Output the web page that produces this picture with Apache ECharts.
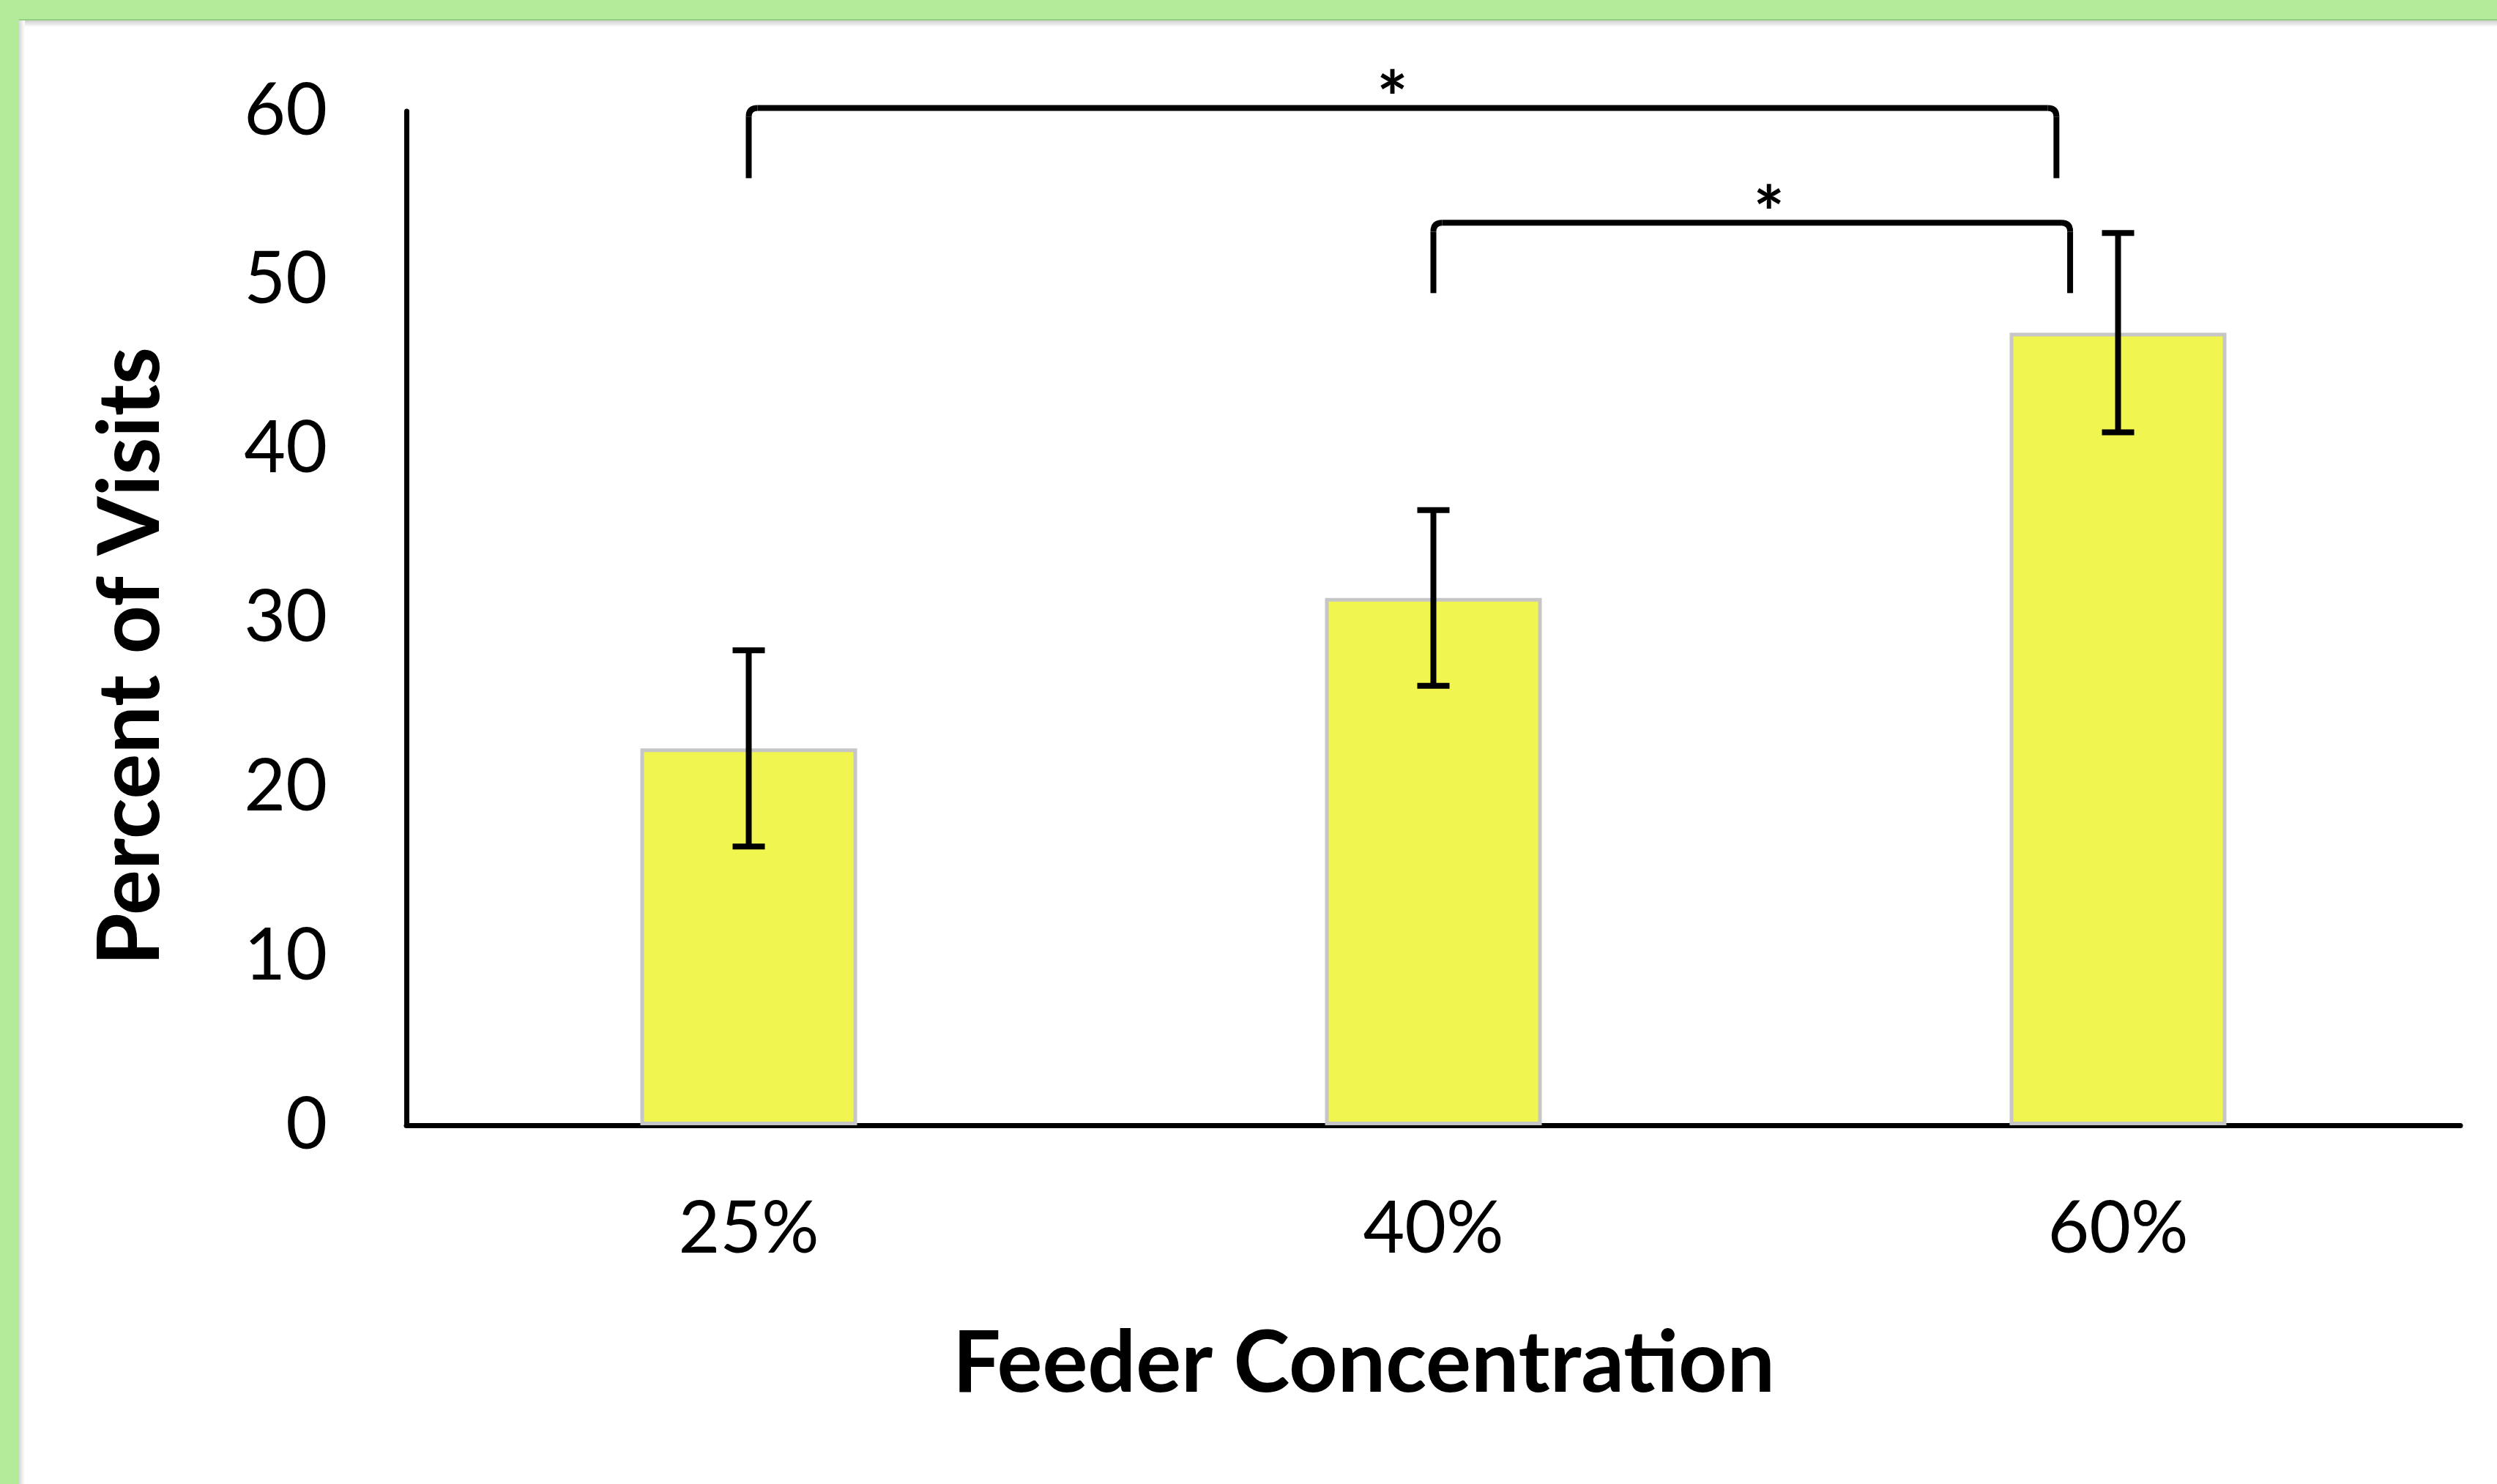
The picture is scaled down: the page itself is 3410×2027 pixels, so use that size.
<!DOCTYPE html>
<html>
<head>
<meta charset="utf-8">
<script src="https://cdn.jsdelivr.net/npm/echarts@6/dist/echarts.min.js"></script>
<style>
  html, body { margin: 0; padding: 0; width: 3410px; height: 2027px; background: #fff; overflow: hidden; }
  .band-top { position: absolute; left: 0; top: 0; width: 3410px; height: 26px; background: #b3eb9a; border-bottom: 2px solid #96d07e; }
  .band-left { position: absolute; left: 0; top: 0; width: 26px; height: 2027px; background: #b3eb9a; }
  .shade-top { position: absolute; left: 26px; top: 28px; width: 3384px; height: 9px; background: linear-gradient(#cfcfcf, #fff); }
  .shade-left { position: absolute; left: 26px; top: 28px; width: 8px; height: 1999px; background: linear-gradient(90deg, #d8d8d8, #fff); }
  #chart { position: absolute; left: 0; top: 0; width: 3410px; height: 2027px; }
</style>
</head>
<body>
<div class="band-top"></div>
<div class="band-left"></div>
<div class="shade-top"></div>
<div class="shade-left"></div>
<div id="chart"></div>
<script>
// feeder sugar concentrations
const categories = ['25%', '40%', '60%']
// mean percent of visits and error (+/-)
const visits = [22.3, 31.2, 46.9]
const errors = [5.8, 5.2, 5.9]
// significance brackets: from / to (category position), level (percent), mark position
const bracketFrom = [0, 1]
const bracketTo = [1.91, 1.93]
const bracketLevel = [60.2, 53.4]
const bracketMarkAt = [0.94, 1.49]
const bracketMark = ['*', '*']

const font = 'Lato, "Open Sans", sans-serif'
const chart = echarts.init(document.getElementById('chart'))

const errData = visits.map((v, i) => [i, v - errors[i], v + errors[i]])
const bracketData = bracketFrom.map((f, i) => [f, bracketLevel[i], bracketTo[i], bracketMarkAt[i]])

chart.setOption({
  animation: false,
  grid: { left: 555, top: 152, right: 50, bottom: 490 },
  xAxis: [
    {
      type: 'category',
      data: categories,
      axisLine: { lineStyle: { color: '#000', width: 7 } },
      axisTick: { show: false },
      axisLabel: { color: '#000', fontSize: 98, fontFamily: font, margin: 142, verticalAlign: 'middle' },
      name: 'Feeder Concentration',
      nameLocation: 'middle',
      nameGap: 327,
      nameTextStyle: {
        color: '#000', fontSize: 116, fontWeight: 'bold', fontFamily: font,
        verticalAlign: 'middle', padding: [0, 190, 0, 0],
      },
    },
    // hidden helper axis for the significance brackets
    { type: 'value', min: -0.5, max: 2.5, show: false, position: 'bottom' },
  ],
  yAxis: {
    type: 'value',
    min: 0,
    max: 60,
    interval: 10,
    axisLine: { show: true, onZero: false, lineStyle: { color: '#000', width: 7 } },
    axisTick: { show: false },
    splitLine: { show: false },
    axisLabel: { color: '#000', fontSize: 98, fontFamily: font, margin: 108 },
    name: 'Percent of Visits',
    nameLocation: 'middle',
    nameRotate: 90,
    nameGap: 375,
    nameTextStyle: {
      color: '#000', fontSize: 116, fontWeight: 'bold', fontFamily: font,
      verticalAlign: 'middle', padding: [0, 104, 0, 0],
    },
  },
  series: [
    {
      type: 'bar',
      data: visits,
      barWidth: 296,
      itemStyle: { color: '#f0f54f', borderColor: '#c6c6c6', borderWidth: 5 },
    },
    {
      type: 'custom',
      data: errData,
      z: 5,
      renderItem: (params, api) => {
        const lo = api.coord([api.value(0), api.value(1)])
        const hi = api.coord([api.value(0), api.value(2)])
        const cap = 22
        const st = { stroke: '#000', lineWidth: 8 }
        return {
          type: 'group',
          children: [
            { type: 'line', shape: { x1: hi[0], y1: hi[1], x2: lo[0], y2: lo[1] }, style: st },
            { type: 'line', shape: { x1: hi[0] - cap, y1: hi[1], x2: hi[0] + cap, y2: hi[1] }, style: st },
            { type: 'line', shape: { x1: lo[0] - cap, y1: lo[1], x2: lo[0] + cap, y2: lo[1] }, style: st },
          ],
        }
      },
    },
    {
      type: 'custom',
      xAxisIndex: 1,
      data: bracketData,
      z: 6,
      renderItem: (params, api) => {
        const a = api.coord([api.value(0), api.value(1)])
        const b = api.coord([api.value(2), api.value(1)])
        const m = api.coord([api.value(3), api.value(1)])
        const r = 12
        const leg = 96
        const st = { stroke: '#000', lineWidth: 8, fill: 'none' }
        const y = a[1]
        return {
          type: 'group',
          children: [
            { type: 'line', shape: { x1: a[0], y1: y + leg, x2: a[0], y2: y + r }, style: st },
            { type: 'bezierCurve', shape: { x1: a[0], y1: y + r, cpx1: a[0], cpy1: y, x2: a[0] + r, y2: y }, style: st },
            { type: 'line', shape: { x1: a[0] + r, y1: y, x2: b[0] - r, y2: y }, style: st },
            { type: 'bezierCurve', shape: { x1: b[0] - r, y1: y, cpx1: b[0], cpy1: y, x2: b[0], y2: y + r }, style: st },
            { type: 'line', shape: { x1: b[0], y1: y + r, x2: b[0], y2: y + leg }, style: st },
            {
              type: 'text',
              x: m[0],
              y: y - 10,
              style: {
                text: bracketMark[params.dataIndex],
                fill: '#000',
                font: 'bold 100px ' + font,
                align: 'center',
                verticalAlign: 'middle',
              },
            },
          ],
        }
      },
    },
  ],
})
</script>
</body>
</html>
